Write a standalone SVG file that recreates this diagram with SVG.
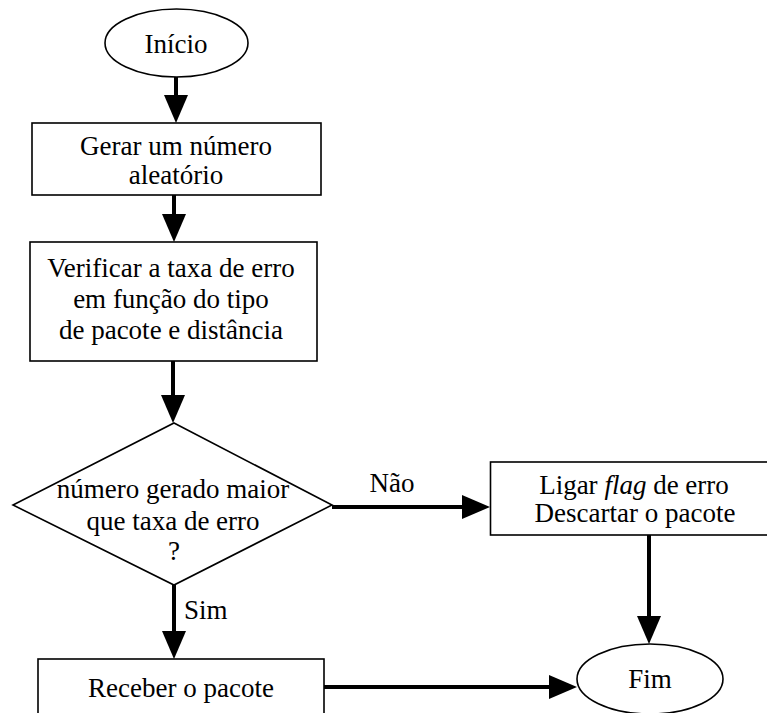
<svg xmlns="http://www.w3.org/2000/svg" width="767" height="713" viewBox="0 0 767 713">
<style>
.s{fill:#fff;stroke:#000;stroke-width:1.6}
.t{font-family:"Times New Roman","Liberation Serif",serif;font-size:27px;fill:#000;text-anchor:middle}
.c{stroke:#000;stroke-width:4;fill:none;marker-end:url(#ah)}
</style>
<defs>
<marker id="ah" markerUnits="userSpaceOnUse" markerWidth="28" markerHeight="24" refX="0" refY="12" orient="auto" overflow="visible">
<path d="M0,0 L28,12 L0,24 Z" fill="#000"/>
</marker>
</defs>
<rect width="767" height="713" fill="#fff"/>
<g id="connectors">
<line class="c" x1="176" y1="77" x2="176" y2="95"/>
<line class="c" x1="174" y1="195" x2="174" y2="214"/>
<line class="c" x1="173" y1="361" x2="173" y2="395"/>
<line class="c" x1="174" y1="585" x2="174" y2="631"/>
<line class="c" x1="332" y1="507" x2="462" y2="507"/>
<line class="c" x1="649" y1="535" x2="649" y2="616"/>
<line class="c" x1="324" y1="687" x2="549" y2="687"/>
<text class="t" x="392" y="492">Não</text>
<text class="t" x="184" y="619" style="text-anchor:start">Sim</text>
</g>
<g id="inicio">
<ellipse class="s" cx="176.5" cy="43" rx="71.5" ry="34"/>
<text class="t" x="176" y="53">Início</text>
</g>
<g id="gerar">
<rect class="s" x="32" y="123" width="289" height="72"/>
<text class="t" x="176" y="155">Gerar um número</text>
<text class="t" x="176" y="184">aleatório</text>
</g>
<g id="verificar">
<rect class="s" x="30" y="242" width="287" height="119"/>
<text class="t" x="171" y="277">Verificar a taxa de erro</text>
<text class="t" x="171" y="308">em função do tipo</text>
<text class="t" x="171" y="339">de pacote e distância</text>
</g>
<g id="decisao">
<polygon class="s" points="174,423 332,505 174,585 13,505"/>
<text class="t" x="173" y="498">número gerado maior</text>
<text class="t" x="173" y="530">que taxa de erro</text>
<text class="t" x="174" y="560">?</text>
</g>
<g id="descartar">
<rect class="s" x="490.5" y="462" width="290" height="73"/>
<text class="t" x="634" y="494">Ligar <tspan font-style="italic">flag</tspan> de erro</text>
<text class="t" x="635" y="522">Descartar o pacote</text>
</g>
<g id="receber">
<rect class="s" x="38" y="659" width="286" height="70"/>
<text class="t" x="181" y="697">Receber o pacote</text>
</g>
<g id="fim">
<ellipse class="s" cx="650" cy="679" rx="73" ry="35"/>
<text class="t" x="650" y="688">Fim</text>
</g>
</svg>
